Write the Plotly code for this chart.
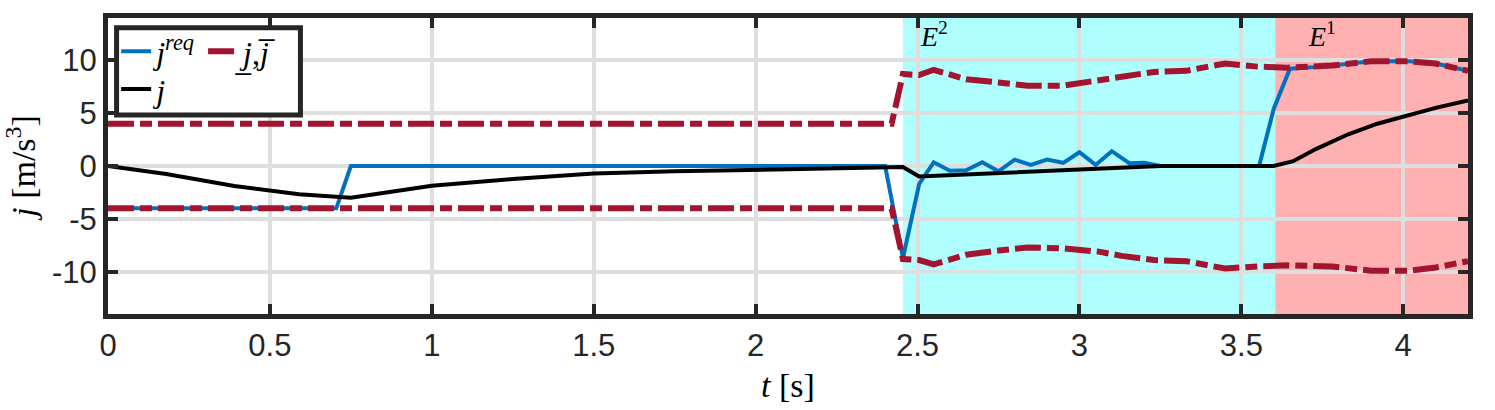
import plotly.graph_objects as go

# requested jerk (blue)
t_req = [0, 0.705, 0.75, 2.40, 2.455, 2.505, 2.55, 2.60, 2.65, 2.70, 2.75, 2.80, 2.85,
         2.90, 2.95, 3.00, 3.05, 3.10, 3.155, 3.20, 3.25, 3.555, 3.60, 3.65, 3.75,
         3.90, 4.02, 4.10, 4.20]
j_req = [-4, -4, 0, 0, -8.7, -1.7, 0.35, -0.45, -0.4, 0.35, -0.5, 0.6, 0.1,
         0.6, 0.3, 1.3, 0.1, 1.4, 0.25, 0.3, 0, 0, 5.4, 9.2, 9.4,
         9.9, 9.9, 9.7, 9.0]

# applied jerk (black)
t_j = [0, 0.18, 0.39, 0.59, 0.75, 1.0, 1.25, 1.5, 1.75, 2.0, 2.25, 2.40, 2.455,
       2.505, 2.75, 3.0, 3.15, 3.25, 3.60, 3.66, 3.73, 3.83, 3.92, 4.01, 4.10, 4.20]
j_act = [0, -0.76, -1.9, -2.67, -3.0, -1.87, -1.24, -0.7, -0.5, -0.35, -0.25, -0.19, -0.1,
         -1.0, -0.7, -0.4, -0.2, 0, 0, 0.45, 1.6, 3.0, 4.0, 4.76, 5.5, 6.2]

# jerk bounds (red dash-dot)
t_bnd = [0, 2.42, 2.455, 2.505, 2.55, 2.65, 2.75, 2.84, 2.95, 3.06, 3.13, 3.23, 3.33,
         3.45, 3.55, 3.64, 3.78, 3.90, 4.02, 4.10, 4.20]
j_upper = [4, 4, 8.7, 8.6, 9.1, 8.2, 7.9, 7.6, 7.6, 8.1, 8.5, 8.9, 9.0,
           9.7, 9.4, 9.3, 9.5, 9.9, 9.9, 9.7, 9.0]
j_lower = [-4, -4, -8.8, -8.9, -9.3, -8.4, -8.0, -7.7, -7.8, -8.1, -8.5, -8.9, -9.0,
           -9.7, -9.5, -9.4, -9.5, -9.9, -9.9, -9.6, -9.0]

# shaded phases
phase_labels = ["<i>E</i><sup>2</sup>", "<i>E</i><sup>1</sup>"]
phase_label_x = [2.55, 3.75]
phase_start = [2.455, 3.605]
phase_end = [3.605, 4.2]
phase_colors = ["cyan", "red"]

x_ticks = [0, 0.5, 1, 1.5, 2, 2.5, 3, 3.5, 4]
y_ticks = [-10, -5, 0, 5, 10]

DARK = "#262626"
SERIF = "Liberation Serif"

fig = go.Figure()

fig.add_trace(go.Scatter(
    x=t_req, y=j_req, mode="lines", name="<i>j</i><sup><i>req</i></sup>",
    line={"color": "#0072BD", "width": 4}, legend="legend",
))
fig.add_trace(go.Scatter(
    x=t_j, y=j_act, mode="lines", name="<i>j</i>",
    line={"color": "black", "width": 4}, legend="legend2",
))
fig.add_trace(go.Scatter(
    x=t_bnd + [None] + t_bnd, y=j_upper + [None] + j_lower, mode="lines",
    name="<i>j\u0332</i>,<i>j\u0305</i>",
    line={"color": "#A2142F", "width": 6, "dash": "26px,6px,12px,6px"},
    legend="legend",
))

for lab, xl, x0, x1, col in zip(phase_labels, phase_label_x, phase_start, phase_end, phase_colors):
    fig.add_shape(type="rect", xref="x", yref="paper", x0=x0, x1=x1, y0=0, y1=1,
                  fillcolor=col, opacity=0.31, line={"width": 0}, layer="between")
    fig.add_annotation(x=xl, y=12.4, text=lab, showarrow=False,
                       font={"family": SERIF, "size": 28, "color": "black"})

# legend box
fig.add_shape(type="rect", xref="paper", yref="paper", x0=0.0063, x1=0.1415,
              y0=0.672, y1=0.967, fillcolor="white", line={"color": DARK, "width": 5},
              layer="above")

legend_style = {"font": {"family": SERIF, "size": 32, "color": "black"},
                "bgcolor": "rgba(0,0,0,0)", "borderwidth": 0,
                "orientation": "h", "xanchor": "left", "yanchor": "top",
                "itemclick": False, "tracegroupgap": 0}

fig.update_layout(
    width=1495, height=410,
    margin={"l": 108, "r": 27, "t": 18, "b": 96},
    plot_bgcolor="white", paper_bgcolor="white",
    font={"family": "Liberation Sans", "size": 31, "color": DARK},
    legend={**legend_style, "x": 0.006, "y": 0.98},
    legend2={**legend_style, "x": 0.006, "y": 0.852},
)
fig.update_xaxes(
    range=[0, 4.2], tickvals=x_ticks, ticktext=[f"{v:g}" for v in x_ticks],
    showgrid=True, gridcolor="#dedede", gridwidth=4, zeroline=False,
    showline=True, linecolor=DARK, linewidth=5, mirror="ticks",
    ticks="inside", ticklen=10, tickwidth=4, tickcolor=DARK, automargin=False,
    title={"text": "<i>t</i> [s]", "font": {"family": SERIF, "size": 34, "color": "black"},
           "standoff": 12},
)
fig.update_yaxes(
    range=[-14, 14], tickvals=y_ticks, ticktext=[f"{v:g}" for v in y_ticks],
    showgrid=True, gridcolor="#dedede", gridwidth=4, zeroline=False,
    showline=True, linecolor=DARK, linewidth=5, mirror="ticks",
    ticks="inside", ticklen=10, tickwidth=4, tickcolor=DARK, automargin=False,
    title={"text": "<i>j</i> [m/s<sup>3</sup>]", "font": {"family": SERIF, "size": 34, "color": "black"},
           "standoff": 14},
)

# drop the page's default body margin so the figure sits at the window corner
fig.write_html("out.html", config={"displayModeBar": False},
               post_script="document.body.style.margin = '0';")
